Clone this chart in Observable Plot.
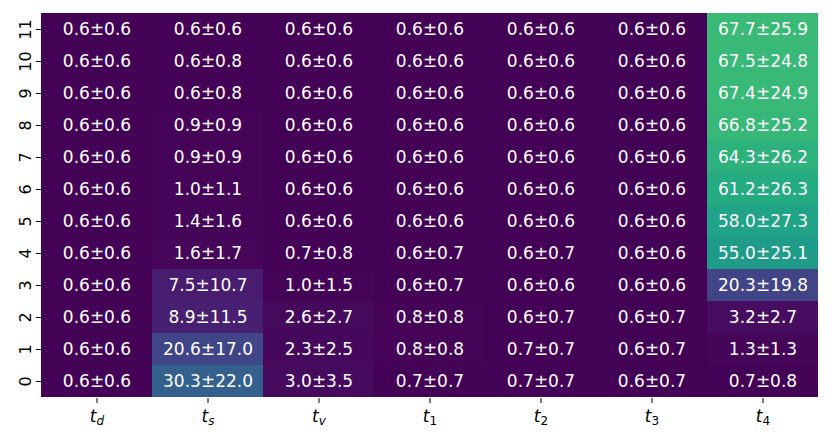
<!DOCTYPE html>
<html><head><meta charset="utf-8">
<script src="https://cdn.jsdelivr.net/npm/d3@7"></script>
<script src="https://cdn.jsdelivr.net/npm/@observablehq/plot@0.6"></script>
<style>body{margin:0;background:#fff;font-family:"DejaVu Sans",sans-serif;}</style>
</head><body><div id="chart"></div>
<script>
const columns = ["d", "s", "v", "1", "2", "3", "4"];
const rows = [0, 1, 2, 3, 4, 5, 6, 7, 8, 9, 10, 11];
// means and stds per column, rows 0..11
const means = {
  d: [0.6,0.6,0.6,0.6,0.6,0.6,0.6,0.6,0.6,0.6,0.6,0.6],
  s: [30.3,20.6,8.9,7.5,1.6,1.4,1.0,0.9,0.9,0.6,0.6,0.6],
  v: [3.0,2.3,2.6,1.0,0.7,0.6,0.6,0.6,0.6,0.6,0.6,0.6],
  "1": [0.7,0.8,0.8,0.6,0.6,0.6,0.6,0.6,0.6,0.6,0.6,0.6],
  "2": [0.7,0.7,0.6,0.6,0.6,0.6,0.6,0.6,0.6,0.6,0.6,0.6],
  "3": [0.6,0.6,0.6,0.6,0.6,0.6,0.6,0.6,0.6,0.6,0.6,0.6],
  "4": [0.7,1.3,3.2,20.3,55.0,58.0,61.2,64.3,66.8,67.4,67.5,67.7]
};
const stds = {
  d: [0.6,0.6,0.6,0.6,0.6,0.6,0.6,0.6,0.6,0.6,0.6,0.6],
  s: [22.0,17.0,11.5,10.7,1.7,1.6,1.1,0.9,0.9,0.8,0.8,0.6],
  v: [3.5,2.5,2.7,1.5,0.8,0.6,0.6,0.6,0.6,0.6,0.6,0.6],
  "1": [0.7,0.8,0.8,0.7,0.7,0.6,0.6,0.6,0.6,0.6,0.6,0.6],
  "2": [0.7,0.7,0.7,0.6,0.7,0.6,0.6,0.6,0.6,0.6,0.6,0.6],
  "3": [0.7,0.7,0.7,0.6,0.6,0.6,0.6,0.6,0.6,0.6,0.6,0.6],
  "4": [0.8,1.3,2.7,19.8,25.1,27.3,26.3,26.2,25.2,24.9,24.8,25.9]
};
const data = [];
for (const c of columns) rows.forEach((r, i) => data.push({col: c, row: r, mean: means[c][i], std: stds[c][i]}));

const chart = Plot.plot({
  width: 831, height: 441,
  marginLeft: 41, marginTop: 12, marginRight: 13, marginBottom: 43,
  style: {fontFamily: "DejaVu Sans, sans-serif", fontSize: "16px", color: "#000"},
  x: {domain: columns, padding: 0, label: null, tickSize: 5, tickPadding: 7},
  y: {domain: rows.slice().reverse(), padding: 0, label: null, tickSize: 5, tickRotate: -90, tickPadding: 6},
  color: {type: "linear", scheme: "viridis", domain: [0, 100]},
  marks: [
    Plot.cell(data, {x: "col", y: "row", fill: "mean", inset: 0}),
    Plot.text(data, {x: "col", y: "row", text: d => `${d.mean.toFixed(1)}±${d.std.toFixed(1)}`, fill: "white", fontSize: 17})
  ]
});
document.getElementById("chart").appendChild(chart);
// math-style subscript labels for x ticks
d3.select(chart).selectAll("g[aria-label='x-axis tick label'] text").each(function(d) {
  const t = d3.select(this);
  const sub = t.text();
  t.text(null);
  t.append("tspan").attr("font-style", "italic").attr("font-size", 17).text("t");
  t.append("tspan").attr("font-style", sub.match(/\d/) ? "normal" : "italic").attr("font-size", 12).attr("dy", "0.3em").text(sub);
});
d3.select(chart).selectAll("g[aria-label='y-axis tick label'] text").attr("font-size", 16);
</script></body></html>
